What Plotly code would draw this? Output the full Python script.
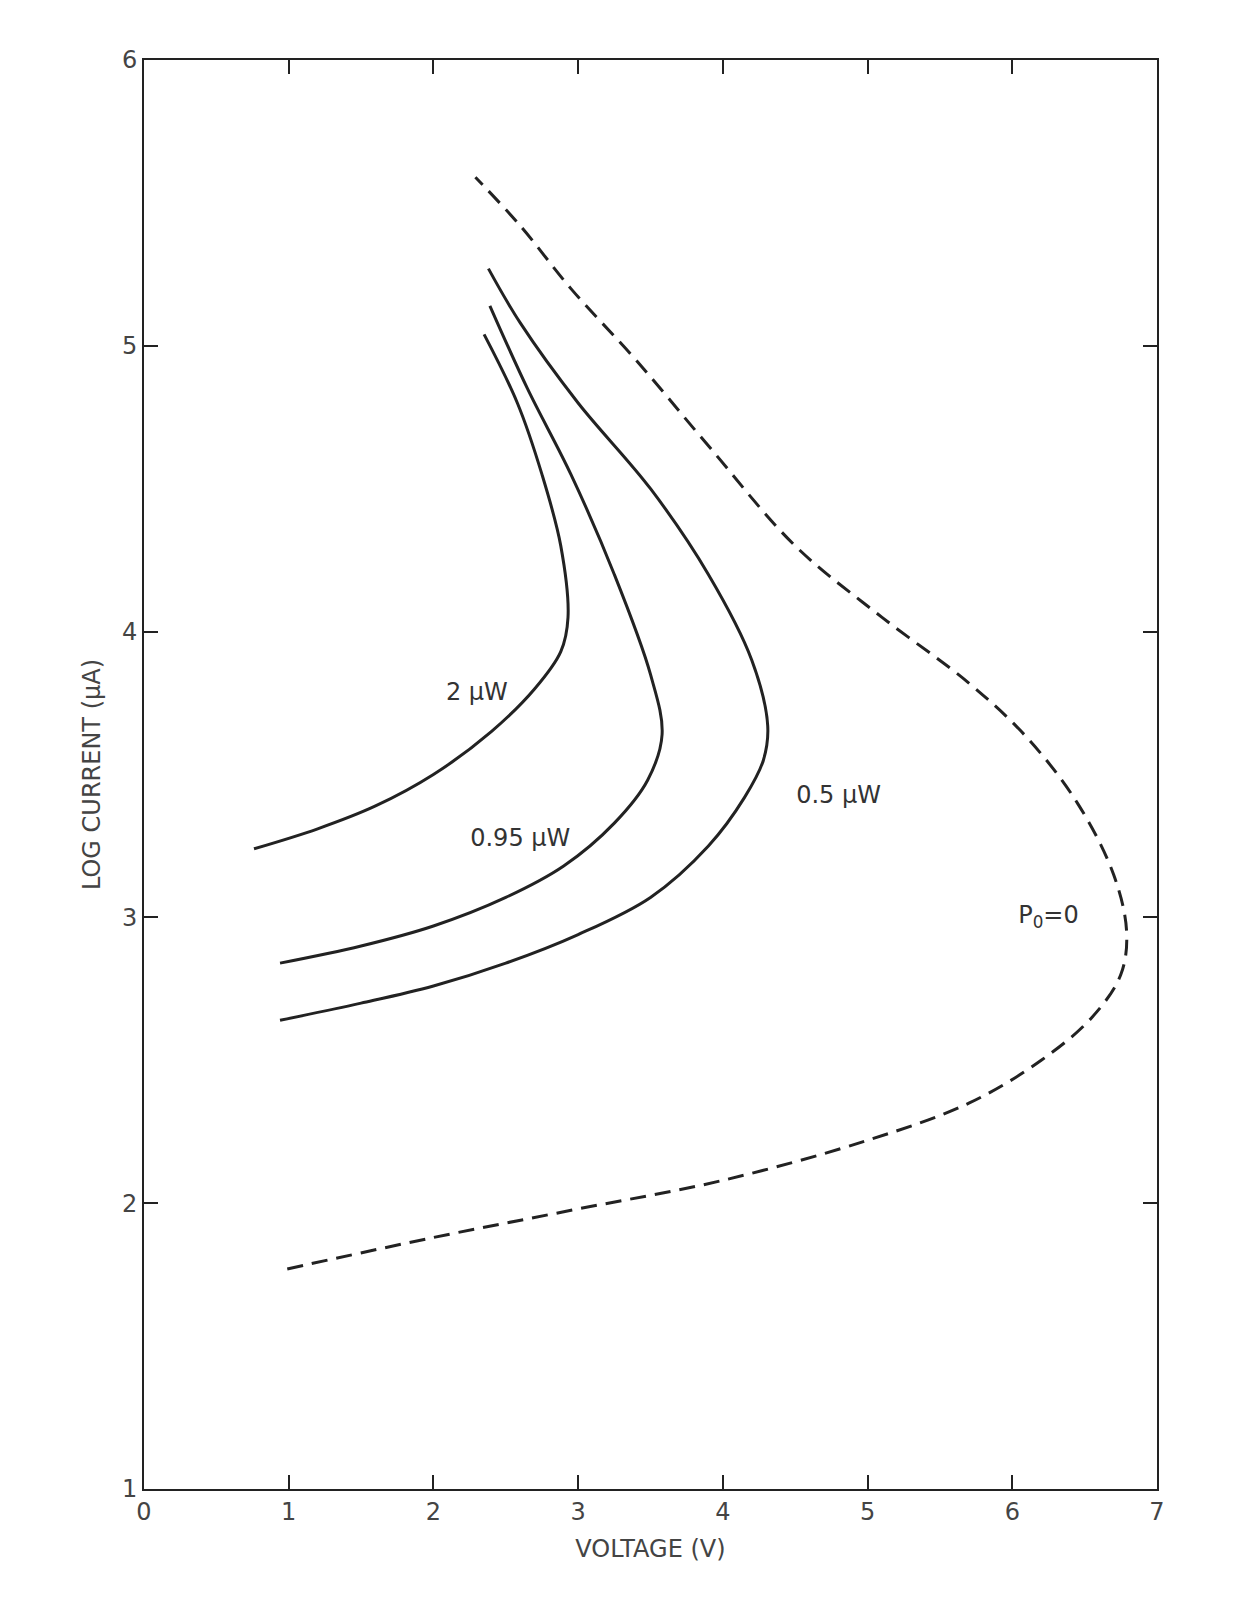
import plotly.graph_objects as go

# 2 uW curve
v_2uw = [0.76, 1.2, 1.6, 2.0, 2.4, 2.7, 2.88, 2.93, 2.88, 2.75, 2.58, 2.35]
i_2uw = [3.24, 3.31, 3.39, 3.5, 3.65, 3.8, 3.93, 4.05, 4.3, 4.55, 4.8, 5.04]
# 0.95 uW curve
v_095 = [0.94, 1.5, 2.0, 2.5, 2.9, 3.25, 3.48, 3.58, 3.5, 3.25, 2.95, 2.65, 2.39]
i_095 = [2.84, 2.9, 2.97, 3.07, 3.18, 3.33, 3.48, 3.64, 3.85, 4.2, 4.55, 4.85, 5.14]
# 0.5 uW curve
v_05 = [0.94, 1.5, 2.0, 2.5, 3.0, 3.5, 3.9, 4.15, 4.28, 4.31, 4.2, 3.9, 3.5, 3.0, 2.6, 2.38]
i_05 = [2.64, 2.7, 2.76, 2.84, 2.94, 3.07, 3.25, 3.42, 3.55, 3.67, 3.9, 4.2, 4.5, 4.8, 5.08, 5.27]
# P0 = 0 (dashed)
v_p0 = [0.99, 2.0, 3.0, 4.0, 5.0, 5.7, 6.2, 6.55, 6.75, 6.79, 6.7, 6.45, 6.1, 5.7, 5.1, 4.5, 3.9, 3.4, 2.95, 2.6, 2.29]
i_p0 = [1.77, 1.88, 1.98, 2.08, 2.22, 2.35, 2.5, 2.65, 2.8, 2.95, 3.15, 3.4, 3.63, 3.82, 4.05, 4.3, 4.65, 4.95, 5.2, 5.42, 5.59]

labels = ["2 μW", "0.95 μW", "0.5 μW", "P<sub>0</sub>=0"]
label_x = [2.3, 2.6, 4.8, 6.25]
label_y = [3.78, 3.27, 3.42, 3.0]

fig = go.Figure()
for vx, iy in [(v_2uw, i_2uw), (v_095, i_095), (v_05, i_05)]:
    fig.add_trace(go.Scatter(x=vx, y=iy, mode="lines", line=dict(color="#222", width=3, shape="spline"), showlegend=False))
fig.add_trace(go.Scatter(x=v_p0, y=i_p0, mode="lines",
                         line=dict(color="#222", width=3, dash="16px,9px", shape="spline"), showlegend=False))
fig.add_trace(go.Scatter(x=label_x, y=label_y, mode="text", text=labels,
                         textfont=dict(size=24, color="#333", family="DejaVu Sans"), showlegend=False))

axis = dict(showgrid=False, zeroline=False, showline=True, linecolor="#222", linewidth=2,
            mirror="ticks", ticks="inside", ticklen=14, tickwidth=2, tickcolor="#222",
            tickfont=dict(size=24, color="#444", family="DejaVu Sans"))
fig.update_xaxes(range=[0, 7], dtick=1, title=dict(text="VOLTAGE (V)", font=dict(size=24, color="#444")), **axis)
fig.update_yaxes(range=[1, 6], dtick=1, title=dict(text="LOG CURRENT (μA)", font=dict(size=24, color="#444")), **axis)
fig.update_layout(width=1247, height=1621, plot_bgcolor="white", paper_bgcolor="white",
                  margin=dict(l=136, r=98, t=52, b=140), font=dict(family="DejaVu Sans"))
fig.write_html("out.html")
